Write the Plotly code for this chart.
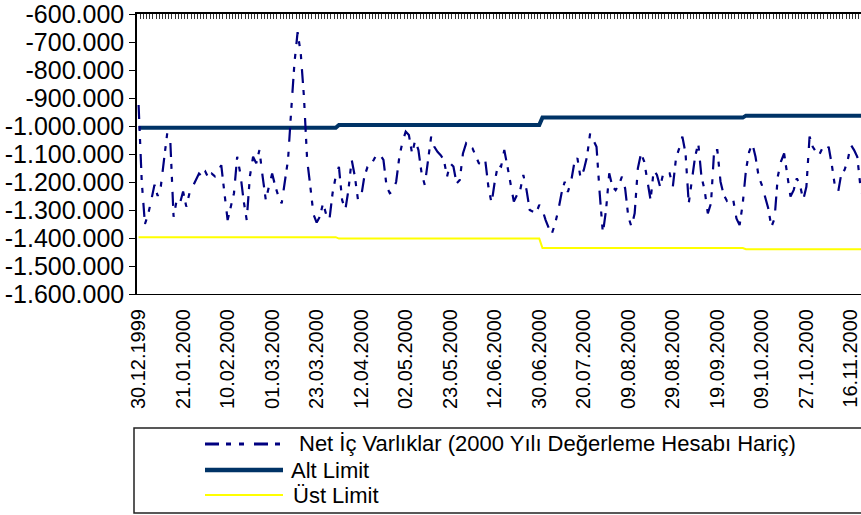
import plotly.graph_objects as go

# ---------------- DATA ----------------
tick_labels = ["30.12.1999", "21.01.2000", "10.02.2000", "01.03.2000", "23.03.2000",
               "12.04.2000", "02.05.2000", "23.05.2000", "12.06.2000", "30.06.2000",
               "20.07.2000", "09.08.2000", "29.08.2000", "19.09.2000", "09.10.2000",
               "27.10.2000", "16.11.2000"]
label_step = 14  # a date label every 14 business days

# Net İç Varlıklar (thousand units -> axis shows value*1000)
net_ic_varliklar = [
    -925, -1200, -1350, -1316, -1264, -1210, -1250, -1215, -1120, -1026,
    -1060, -1324, -1264, -1276, -1234, -1288, -1240, -1216, -1198, -1170,
    -1180, -1163, -1186, -1170, -1180, -1157, -1140, -1240, -1336, -1288,
    -1240, -1110, -1170, -1264, -1336, -1180, -1110, -1133, -1086, -1180,
    -1264, -1216, -1170, -1216, -1252, -1276, -1205, -1120, -943, -777,
    -665, -741, -896, -1120, -1216, -1316, -1345, -1324, -1276, -1316,
    -1336, -1240, -1180, -1146, -1264, -1300, -1228, -1120, -1180, -1264,
    -1252, -1180, -1146, -1140, -1120, -1098, -1104, -1121, -1217, -1240,
    -1235, -1199, -1110, -1056, -1020, -1032, -1098, -1050, -1086, -1169,
    -1211, -1121, -1038, -1074, -1092, -1104, -1121, -1181, -1133, -1145,
    -1205, -1193, -1098, -1062, -1074, -1080, -1104, -1133, -1139, -1121,
    -1217, -1276, -1199, -1139, -1145, -1086, -1145, -1211, -1270, -1246,
    -1229, -1175, -1229, -1300, -1306, -1312, -1282, -1300, -1336, -1365,
    -1383, -1348, -1300, -1240, -1199, -1235, -1199, -1133, -1115, -1187,
    -1157, -1110, -1026, -1050, -1074, -1240, -1383, -1300, -1169, -1217,
    -1229, -1211, -1181, -1223, -1324, -1360, -1312, -1151, -1098, -1127,
    -1193, -1264, -1157, -1175, -1217, -1169, -1169, -1169, -1217, -1115,
    -1080, -1038, -1098, -1276, -1193, -1110, -1062, -1181, -1229, -1312,
    -1276, -1086, -1086, -1199, -1246, -1267, -1258, -1264, -1330, -1354,
    -1276, -1157, -1092, -1062, -1110, -1181, -1211, -1252, -1294, -1360,
    -1330, -1181, -1127, -1098, -1175, -1252, -1229, -1187, -1211, -1264,
    -1217, -1038, -1074, -1092, -1104, -1080, -1092, -1074, -1139, -1217,
    -1235, -1169, -1157, -1121, -1068, -1086, -1110, -1217, -1264,
]

# Limits are fixed per quarter (business days per quarter shown)
quarter_days = [63, 64, 64, 38]
alt_limit_levels = [-1006, -996, -970, -963]
ust_limit_levels = [-1397, -1402, -1436, -1440]

y_tick_values = [-600, -700, -800, -900, -1000, -1100, -1200, -1300, -1400, -1500, -1600]
y_tick_labels = ["-600.000", "-700.000", "-800.000", "-900.000", "-1.000.000", "-1.100.000",
                 "-1.200.000", "-1.300.000", "-1.400.000", "-1.500.000", "-1.600.000"]

legend_names = ["Net İç Varlıklar (2000 Yılı Değerleme Hesabı Hariç)", "Alt Limit", "Üst Limit"]

# ---------------- BUILD ----------------
alt_limit = []
ust_limit = []
for n, a, u in zip(quarter_days, alt_limit_levels, ust_limit_levels):
    alt_limit += [a] * n
    ust_limit += [u] * n

n_pts = len(net_ic_varliklar)
xs = list(range(n_pts))
scale = 1000

W, H = 861, 515
L, T, B = 137, 14, 294
R = 861
pw, ph = R - L, B - T
cat_w = 3.18
x_max = -0.5 + pw / cat_w

def px(xp):
    return (xp - L) / pw

def py(yp):
    return (B - yp) / ph

FONT = "Liberation Sans, Arial, sans-serif"
NAVY = "#000080"
ALT = "#003366"
UST = "#FFFF00"
NET_DASH = "14px,7px,5px,8px,5px,10px"

fig = go.Figure()
fig.add_trace(go.Scatter(x=xs, y=[v * scale for v in ust_limit[:n_pts]], mode="lines",
                         line=dict(color=UST, width=2), name=legend_names[2], showlegend=False))
fig.add_trace(go.Scatter(x=xs, y=[v * scale for v in alt_limit[:n_pts]], mode="lines",
                         line=dict(color=ALT, width=4), name=legend_names[1], showlegend=False))
fig.add_trace(go.Scatter(x=xs, y=[v * scale for v in net_ic_varliklar], mode="lines",
                         line=dict(color=NAVY, width=2.2, dash=NET_DASH),
                         name=legend_names[0], showlegend=False))

tickvals = list(range(0, n_pts, label_step))[:len(tick_labels)]

fig.update_layout(
    width=W, height=H,
    margin=dict(l=L, r=W - R, t=T, b=H - B, pad=0, autoexpand=False),
    paper_bgcolor="white", plot_bgcolor="white",
    font=dict(family=FONT, color="black"),
    showlegend=False,
    xaxis=dict(
        range=[-0.5, x_max], showgrid=False, zeroline=False, automargin=False,
        tickmode="array", tickvals=tickvals, ticktext=tick_labels,
        tickangle=-90, tickfont=dict(size=20, family=FONT), ticks="",
        ticklabelstandoff=6, ticklabeloverflow="allow",
        showline=True, linecolor="black", linewidth=1, side="bottom",
    ),
    xaxis2=dict(
        overlaying="x", matches="x", anchor="y", side="top", automargin=False,
        range=[-0.5, x_max], showgrid=False, zeroline=False,
        tickmode="array", tickvals=[i - 0.5 for i in range(n_pts + 1)],
        ticks="inside", ticklen=5, tickwidth=1, tickcolor="#333",
        showticklabels=False, showline=True, linecolor="black", linewidth=2,
    ),
    yaxis=dict(
        range=[-1600 * scale, -600 * scale], showgrid=False, zeroline=False, automargin=False,
        tickmode="array", tickvals=[v * scale for v in y_tick_values], ticktext=y_tick_labels,
        ticks="outside", ticklen=6, tickwidth=1, tickcolor="black",
        tickfont=dict(size=25, family=FONT), ticklabeloverflow="allow",
        showline=True, linecolor="black", linewidth=1.5,
    ),
)
# dummy trace to attach top axis
fig.add_trace(go.Scatter(x=[0], y=[-1600 * scale], xaxis="x2", mode="markers",
                         marker=dict(opacity=0), hoverinfo="skip", showlegend=False))

# ---------------- manual legend ----------------
shapes = [dict(type="rect", xref="paper", yref="paper",
               x0=px(134), x1=px(880), y0=py(513), y1=py(428),
               line=dict(color="#222", width=1.5), fillcolor="rgba(0,0,0,0)", layer="above")]
rows = [444, 470, 495]
styles = [dict(color=NAVY, width=3, dash=NET_DASH), dict(color=ALT, width=4.5), dict(color=UST, width=2)]
text_x = [297, 289, 291]
annotations = []
for r, st, name, tx in zip(rows, styles, legend_names, text_x):
    shapes.append(dict(type="line", xref="paper", yref="paper",
                       x0=px(205), x1=px(283), y0=py(r), y1=py(r), line=st))
    annotations.append(dict(xref="paper", yref="paper", x=px(tx), y=py(r),
                            xanchor="left", yanchor="middle", showarrow=False, text=name,
                            font=dict(size=22, family=FONT, color="black")))
fig.update_layout(shapes=shapes, annotations=annotations)

# page body without default margin so the 861x515 figure fills the window exactly
fig.write_html("out.html", config={"displayModeBar": False},
               post_script="document.body.style.margin='0';")
